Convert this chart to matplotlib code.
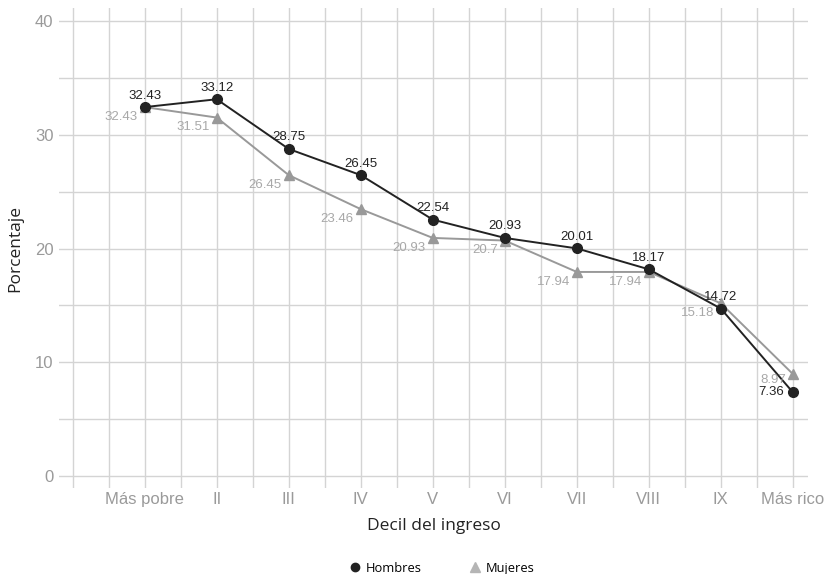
import matplotlib
matplotlib.use("Agg")
import matplotlib.pyplot as plt
from matplotlib.lines import Line2D
import numpy as np

# data
deciles = ["Más pobre", "II", "III", "IV", "V", "VI", "VII", "VIII", "IX", "Más rico"]
hombres = [32.43, 33.12, 28.75, 26.45, 22.54, 20.93, 20.01, 18.17, 14.72, 7.36]
mujeres = [32.43, 31.51, 26.45, 23.46, 20.93, 20.7, 17.94, 17.94, 15.18, 8.97]

black = "#222222"
gray = "#999999"
tick_gray = "#9a9a9a"
grid_c = "#d4d4d4"

plt.rcParams["font.family"] = ["Liberation Sans", "DejaVu Sans"]

fig = plt.figure(figsize=(8.27, 5.74), dpi=100)
ax = fig.add_axes([59 / 827, 1 - 488 / 574, (808 - 59) / 827, (488 - 8) / 574])

x = np.arange(len(deciles))

ax.plot(x, mujeres, color=gray, lw=1.4, marker="^", ms=7.5, zorder=3)
ax.plot(x, hombres, color=black, lw=1.4, marker="o", ms=7, zorder=4)

# labels
last = len(deciles) - 1
for i, v in enumerate(hombres):
    if i == last:
        ax.annotate(f"{v:g}", (i, v), xytext=(-6, 0), textcoords="offset points",
                    ha="right", va="center", fontsize=9.5, color=black, zorder=5)
    else:
        ax.annotate(f"{v:g}", (i, v), xytext=(0, 4), textcoords="offset points",
                    ha="center", va="bottom", fontsize=9.5, color=black, zorder=5)
for i, v in enumerate(mujeres):
    dy = -4 if i == last else -7
    ax.annotate(f"{v:g}", (i, v), xytext=(-5, dy), textcoords="offset points",
                ha="right", va="center", fontsize=9.5, color="#a8a8a8", zorder=5)

ax.set_xlim(-1.19, 9.21)
ax.set_ylim(-1.05, 41.14)

ax.set_xticks(x)
ax.set_xticklabels(deciles)
ax.set_xticks([-1, -0.5] + list(np.arange(0.5, 9, 1)), minor=True)
ax.set_yticks([0, 10, 20, 30, 40])
ax.set_yticks([5, 15, 25, 35], minor=True)

ax.grid(True, which="both", color=grid_c, lw=1)
ax.set_axisbelow(True)
for s in ax.spines.values():
    s.set_visible(False)
ax.tick_params(which="both", length=0)
ax.tick_params(axis="x", pad=3, labelsize=12, labelcolor=tick_gray)
ax.tick_params(axis="y", pad=4, labelsize=12, labelcolor=tick_gray)

ax.set_xlabel("Decil del ingreso", fontsize=12.5, family=["Open Sans", "DejaVu Sans"],
              color=black, labelpad=8)
ax.set_ylabel("Porcentaje", fontsize=12.5, family=["Open Sans", "DejaVu Sans"],
              color=black, labelpad=8)

handles = [
    Line2D([], [], color=black, marker="o", ls="none", ms=6),
    Line2D([], [], color="#b5b5b5", marker="^", ls="none", ms=7),
]
fig.legend(handles, ["Hombres", "Mujeres"], loc="lower center", ncol=2,
           bbox_to_anchor=(0.532, -0.022), frameon=False, columnspacing=3.4,
           handletextpad=0.1, handlelength=1.5,
           prop={"family": ["Open Sans", "DejaVu Sans"], "size": 9.3})

fig.savefig("out.png", dpi=100)
